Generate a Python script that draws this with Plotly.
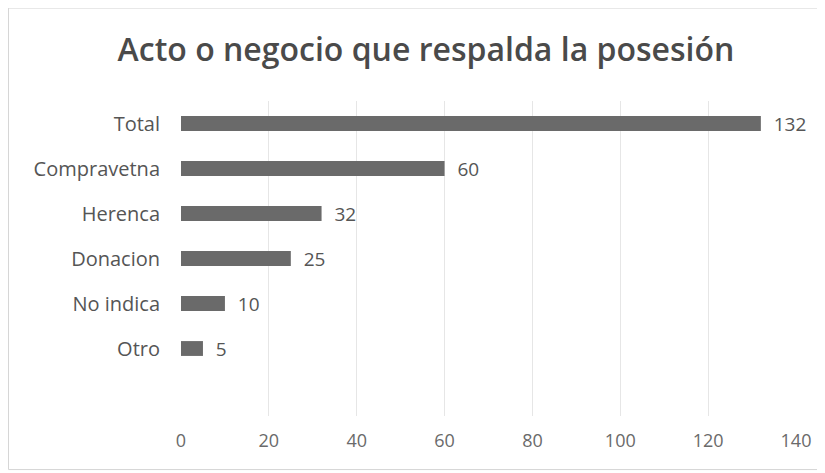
import plotly.graph_objects as go

categories = ["Total", "Compravetna", "Herenca", "Donacion", "No indica", "Otro"]
values = [132, 60, 32, 25, 10, 5]
tick_vals = [0, 20, 40, 60, 80, 100, 120, 140]

fig = go.Figure(go.Bar(
    x=values, y=categories, orientation="h",
    marker=dict(color="#6a6a6a", line=dict(width=0)),
    text=["  " + str(v) for v in values], textposition="outside",
    textfont=dict(size=19, color="#555555", family="Open Sans"),
    constraintext="none",
    cliponaxis=False,
))

fig.update_layout(
    width=817, height=465,
    paper_bgcolor="white", plot_bgcolor="white",
    margin=dict(l=173, r=29, t=93, b=57),
    title=dict(text="Acto o negocio que respalda la posesión", x=0.5116, xanchor="center",
               y=0.91, yanchor="middle",
               font=dict(size=32, color="#4a4a4a", family="Open Sans", weight=600)),
    bargap=0.67,
    showlegend=False,
    font=dict(family="Open Sans", color="#595959"),
)
fig.update_xaxes(range=[0, 140], tickvals=tick_vals, showgrid=True, gridcolor="#e6e6e6",
                 gridwidth=1, zeroline=False, showline=False, automargin=False,
                 tickfont=dict(size=18, color="#6a6a6a"), ticks="", ticklabelstandoff=12)
fig.update_yaxes(type="category", categoryorder="array", categoryarray=categories,
                 range=[6.5, -0.5], showgrid=False, zeroline=False, showline=False,
                 automargin=False,
                 tickfont=dict(size=20, color="#555555"), ticks="", ticklabelstandoff=20)

fig.add_shape(type="rect", xref="paper", yref="paper", x0=-0.2805, x1=1.0407, y0=-0.170, y1=1.295,
              line=dict(color="#d6d6d6", width=1))

fig.write_html("out.html")
